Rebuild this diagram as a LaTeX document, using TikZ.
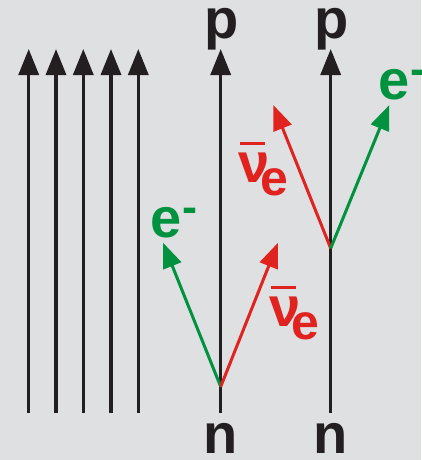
\documentclass[tikz,border=0pt]{standalone}
\usepackage{fontspec}
\setmainfont{Liberation Sans}
\usetikzlibrary{arrows.meta}
\definecolor{bg}{HTML}{DFE0E2}
\definecolor{ink}{HTML}{231F20}
\definecolor{lepton}{HTML}{00923F}
\definecolor{neutrino}{HTML}{E0231E}
% antineutrino symbol: nu with a bar, subscript e
\newcommand\antinue{\rlap{\hspace{2pt}\raisebox{37pt}{\rule{25pt}{3pt}}}ν\hspace{-9pt}\raisebox{-13pt}{\fontsize{50}{50}\selectfont e}}
% electron symbol with a raised minus
\newcommand\electron{e\hspace{1pt}\raisebox{15pt}{\fontsize{45}{45}\selectfont -}}
\begin{document}
\begin{tikzpicture}[x=1pt,y=-1pt,
  tip/.style={-{Triangle[width=20pt,length=26pt]}},
  track/.style={draw=ink,line width=3.3pt,tip},
  eline/.style={draw=lepton,line width=3pt,-{Triangle[width=19pt,length=25pt]}},
  nline/.style={draw=neutrino,line width=3pt,-{Triangle[width=19pt,length=25pt]}},
  lbl/.style={font=\fontsize{56}{56}\selectfont\bfseries,inner sep=0pt,anchor=base},
  lblw/.style={lbl,anchor=base west}]
\fill[bg] (0,0) rectangle (421,460);
\useasboundingbox (0,0) rectangle (421,460);

% parallel tracks on the left
\foreach \i/\x in {1/28.7,2/56,3/83.3,4/111,5/138.3}{
  \coordinate (lb\i) at (\x,413);
  \coordinate (lt\i) at (\x,49);
  \draw[track] (lb\i) -- (lt\i);
}

% first decay: vertex low on the track
\coordinate (b1) at (220.7,413);
\coordinate (t1) at (220.7,49);
\coordinate (v1) at (220.7,386.7);
\coordinate (e1) at (163,242.7);
\coordinate (nu1) at (278,242.7);
\draw[track] (b1) -- (t1);
\draw[eline] (v1) -- (e1);
\draw[nline] (v1) -- (nu1);
\node[lbl,text=ink] (n1) at (220.7,453) {n};
\node[lbl,text=ink] (p1) at (221.5,38) {p};
\node[lblw,text=lepton] (el1) at (150,237) {\electron};
\node[lblw,text=neutrino] (nl1) at (269,326) {\antinue};

% second decay: vertex higher on the track
\coordinate (b2) at (330.7,413);
\coordinate (t2) at (330.7,49);
\coordinate (v2) at (330.7,248.3);
\coordinate (nu2) at (273.3,105);
\coordinate (e2) at (389.3,105);
\draw[track] (b2) -- (t2);
\draw[nline] (v2) -- (nu2);
\draw[eline] (v2) -- (e2);
\node[lbl,text=ink] (n2) at (330.7,453) {n};
\node[lbl,text=ink] (p2) at (331.5,38) {p};
\node[lblw,text=lepton] (el2) at (378,99) {\electron};
\node[lblw,text=neutrino] (nl2) at (238,182) {\antinue};
\end{tikzpicture}
\end{document}
